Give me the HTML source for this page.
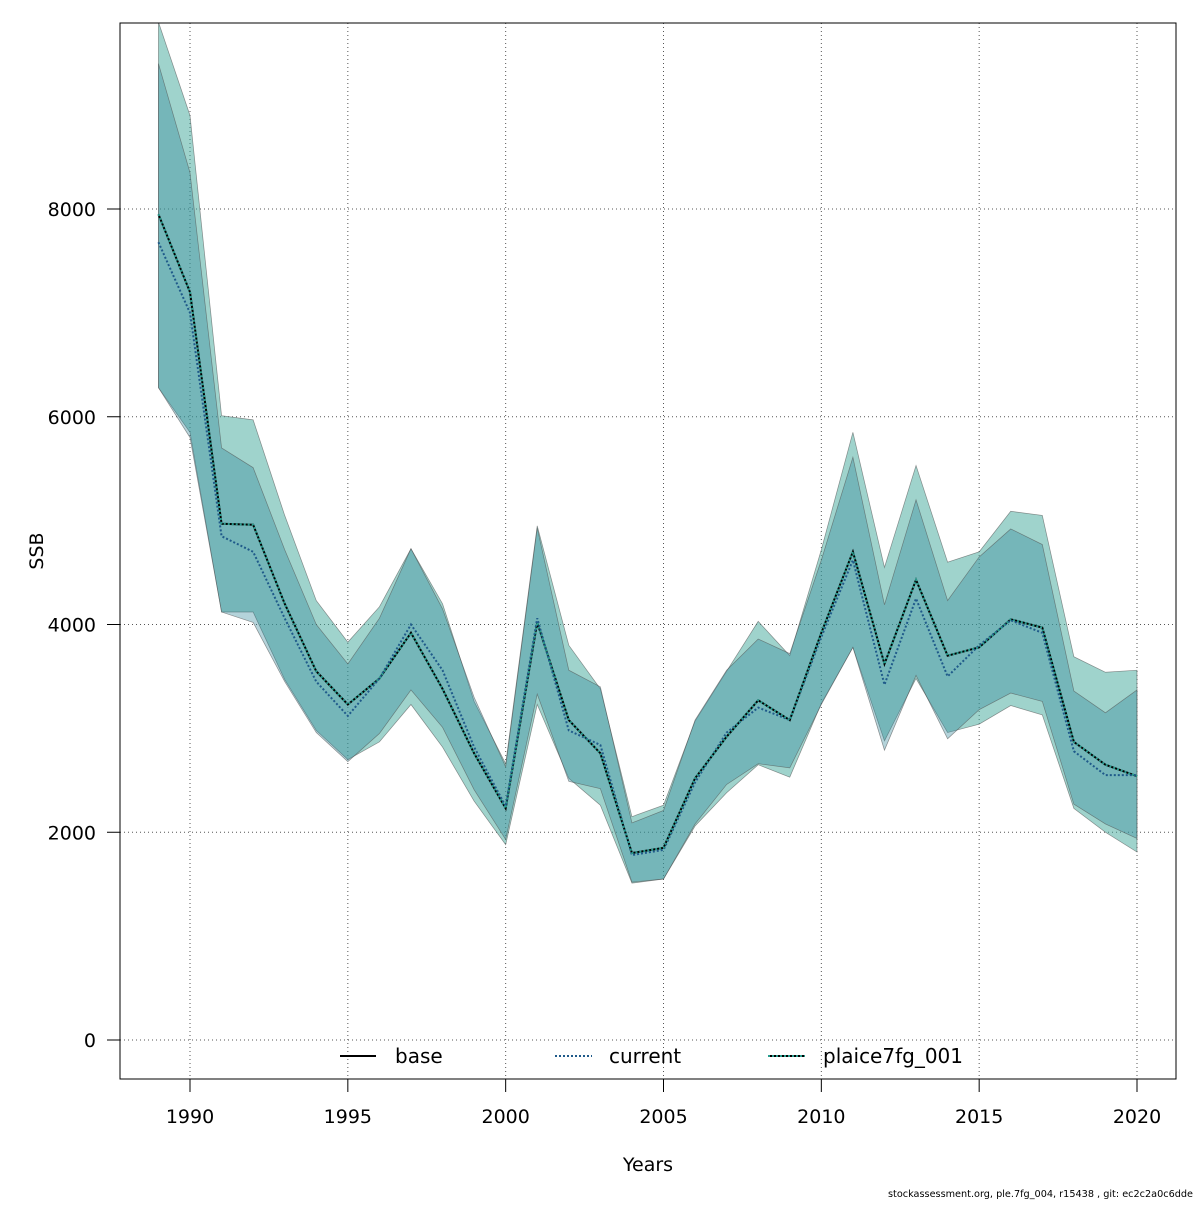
<!DOCTYPE html>
<html><head><meta charset="utf-8"><style>
body{margin:0;background:#fff;width:1200px;height:1200px;overflow:hidden}
svg text{font-family:"DejaVu Sans","Liberation Sans",sans-serif;fill:#000}
</style></head><body>
<svg id="chart" width="1200" height="1200" xmlns="http://www.w3.org/2000/svg">
<defs><clipPath id="clip"><rect x="120" y="23" width="1056" height="1056"/></clipPath></defs>
<g id="grid"></g>
<g id="bands" clip-path="url(#clip)"></g>
<g id="lines" clip-path="url(#clip)"></g>
<rect x="120" y="23" width="1056" height="1056" fill="none" stroke="#000" stroke-width="1"/>
<g id="axes"></g>
<text x="648" y="1171" font-size="19" text-anchor="middle">Years</text>
<text x="43" y="551" font-size="19" text-anchor="middle" transform="rotate(-90 43 551)">SSB</text>
<g>
<g><line x1="340" y1="1056" x2="376" y2="1056" stroke="#000" stroke-width="2"/><text x="395" y="1063" font-size="20">base</text></g>
<g><line x1="555" y1="1056" x2="592" y2="1056" stroke="#1f5a8a" stroke-width="2" stroke-dasharray="2,2"/><text x="609" y="1063" font-size="20">current</text></g>
<g><line x1="768" y1="1056" x2="805" y2="1056" stroke="#000" stroke-width="2"/><line x1="768" y1="1056" x2="805" y2="1056" stroke="#2a9d8f" stroke-width="2" stroke-dasharray="2,2"/><text x="823" y="1063" font-size="20">plaice7fg_001</text></g>
</g>
<text x="1193" y="1197" font-size="9.7" text-anchor="end">stockassessment.org, ple.7fg_004, r15438 , git: ec2c2a0c6dde</text>
</svg>
<script>
const years=[1989,1990,1991,1992,1993,1994,1995,1996,1997,1998,1999,2000,2001,2002,2003,2004,2005,2006,2007,2008,2009,2010,2011,2012,2013,2014,2015,2016,2017,2018,2019,2020];
const baseSSB=[7950,7200,4970,4960,4200,3550,3230,3480,3920,3380,2760,2230,4020,3080,2760,1800,1850,2520,2920,3270,3080,3920,4700,3620,4430,3700,3780,4050,3970,2870,2650,2540];
const baseHigh=[9800,8900,6010,5970,5050,4230,3830,4170,4730,4200,3260,2660,4950,3800,3380,2150,2260,3070,3550,4030,3700,4720,5850,4550,5530,4600,4700,5090,5050,3690,3540,3560];
const baseLow=[6280,5850,4120,4120,3470,2980,2700,2870,3230,2820,2300,1880,3230,2520,2260,1510,1550,2060,2380,2650,2530,3240,3780,2880,3480,2960,3040,3220,3130,2230,2000,1810];
const curSSB=[7680,7000,4850,4700,4060,3450,3120,3480,4000,3560,2820,2250,4060,2980,2840,1780,1830,2480,2960,3200,3080,3880,4620,3420,4250,3500,3800,4040,3920,2780,2550,2550];
const curHigh=[9400,8350,5700,5510,4720,4000,3620,4060,4730,4150,3300,2630,4930,3560,3400,2090,2210,3080,3560,3860,3720,4620,5610,4190,5200,4230,4650,4920,4770,3360,3150,3370];
const curLow=[6280,5800,4120,4020,3450,2960,2680,2950,3370,3010,2410,1930,3330,2490,2420,1520,1550,2080,2460,2660,2620,3230,3780,2790,3510,2900,3180,3340,3260,2270,2080,1940];
const xTicks=[1990,1995,2000,2005,2010,2015,2020];
const yTicks=[0,2000,4000,6000,8000];
const NS='http://www.w3.org/2000/svg';
const X=v=>190+(v-1990)*947/30;
const Y=v=>1040-v*831/8000;
function mk(tag,attrs,parent){const e=document.createElementNS(NS,tag);for(const k in attrs)e.setAttribute(k,attrs[k]);parent.appendChild(e);return e;}
const grid=document.getElementById('grid'),axes=document.getElementById('axes'),bands=document.getElementById('bands'),lines=document.getElementById('lines');
xTicks.forEach(t=>{
 const g=mk('line',{x1:X(t),x2:X(t),y1:23,y2:1079,stroke:'#555','stroke-width':1,'stroke-dasharray':'1,3'},grid);
 
 
 const tk=mk('line',{x1:X(t),x2:X(t),y1:1079,y2:1092,stroke:'#000'},axes);
 
 
 const tx=mk('text',{x:X(t),y:1123,'font-size':19,'text-anchor':'middle'},axes);tx.textContent=t;
 
 
});
yTicks.forEach(t=>{
 const g=mk('line',{x1:120,x2:1176,y1:Y(t),y2:Y(t),stroke:'#555','stroke-width':1,'stroke-dasharray':'1,3'},grid);
 
 
 const tk=mk('line',{x1:107,x2:120,y1:Y(t),y2:Y(t),stroke:'#000'},axes);
 
 
 const tx=mk('text',{x:96,y:Y(t)+7,'font-size':19,'text-anchor':'end'},axes);tx.textContent=t;
 
 
});
function band(hi,lo,fill,name){
 let d='M'+years.map((y,i)=>X(y)+','+Y(hi[i])).join('L');
 d+='L'+years.map((y,i)=>[X(y),Y(lo[i])]).reverse().map(p=>p.join(',')).join('L')+'Z';
 const p=mk('path',{d:d,fill:fill,stroke:'rgba(80,80,80,0.6)','stroke-width':0.7},bands);
 
 
}
band(baseHigh,baseLow,'rgba(64,167,153,0.5)','base-band');
band(curHigh,curLow,'rgba(40,130,150,0.35)','current-band');
function line(vals,stroke,dash,name){
 const p=mk('polyline',{points:years.map((y,i)=>X(y)+','+Y(vals[i])).join(' '),fill:'none',stroke:stroke,'stroke-width':2},lines);
 if(dash)p.setAttribute('stroke-dasharray',dash);
 
 
}
line(baseSSB,'#000',null,'base-line');
line(curSSB,'#1f5a8a','2,2','current-line');
line(baseSSB,'#2a9d8f','2,2','plaice7fg-001-line');
</script>
</body></html>
